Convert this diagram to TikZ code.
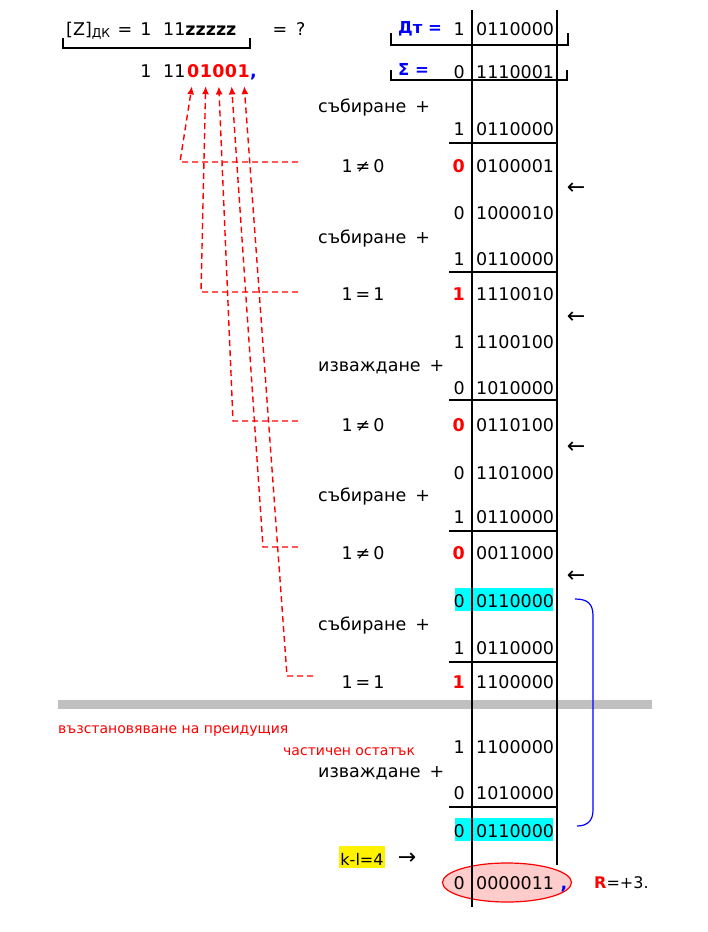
\documentclass[tikz,border=0pt]{standalone}
\usepackage{fontspec}
\setmainfont{DejaVu Sans}
\usetikzlibrary{arrows.meta,shapes.geometric,positioning}
\definecolor{bandgray}{RGB}{192,192,192}
\definecolor{remblue}{RGB}{0,0,255}
\definecolor{hlcyan}{RGB}{0,255,255}
\definecolor{ovalpink}{RGB}{255,204,204}
\newcommand{\rowfont}{\fontsize{17.5pt}{21pt}\selectfont}
\newcommand{\tagfont}{\fontsize{16.5pt}{20pt}\selectfont}
\newcommand{\notefont}{\fontsize{14pt}{17pt}\selectfont}
\newcommand{\arrfont}{\fontsize{22pt}{24pt}\selectfont}

\begin{document}
\begin{tikzpicture}[x=1pt,y=-1pt,every node/.style={inner sep=0pt},
  txt/.style={font=\rowfont,anchor=base},
  sgn/.style={font=\rowfont,anchor=base east},
  man/.style={font=\rowfont,anchor=base west},
  rsgn/.style={sgn,font=\rowfont\bfseries,text=red},
  qbit/.style={font=\rowfont\bfseries,text=red},
  oplabel/.style={font=\rowfont,anchor=base west},
  note/.style={font=\notefont,text=red,anchor=base west},
  link/.style={red,line width=1.4pt,dash pattern=on 6pt off 4pt,
    -{Latex[length=8pt,width=7pt]},shorten >=9pt}]
  \useasboundingbox (0,0) rectangle (708,932);

  \node[txt,anchor=base west] (zl) at (66,35) {[Z]\textsubscript{ДК}};
  \node[txt] (zeq) at (125,35) {=};
  \node[txt] (zs) at (146,35) {1};
  \node[txt,anchor=base west] (zi) at (163,35) {11\textbf{zzzzz}};
  \node[txt] (zq) at (289,35) {=\hspace{9pt}?};
  \draw[line width=1.2pt] (63,38) -- (63,48) -- (250,48) -- (250,38);

  \node[txt] (qs) at (146,77) {1};
  \node[txt,anchor=base west] (qi) at (163,77) {11};
  \node[qbit,anchor=base west] (d1) at (187,77) {0};
  \node[qbit,right=0pt of d1] (d2) {1};
  \node[qbit,right=0pt of d2] (d3) {0};
  \node[qbit,right=0pt of d3] (d4) {0};
  \node[qbit,right=0pt of d4] (d5) {1};
  \node[txt,font=\rowfont\bfseries,text=remblue,anchor=base west] (qc) at (d5.base east) {,};

  \node[font=\tagfont\bfseries,text=remblue,anchor=base west] (dt) at (398,33) {Дт =};
  \node[sgn] (dts) at (465,35) {1};
  \node[man] (dtm) at (476,35) {0110000};
  \draw[line width=1.2pt] (391,33) -- (391,45) -- (568,45) -- (568,33);
  \node[font=\tagfont\bfseries,text=remblue,anchor=base west] (sg) at (398,75) {Σ =};
  \node[sgn] (sgs) at (465,78) {0};
  \node[man] (sgm) at (476,78) {1110001};
  \draw[line width=1.2pt] (391,70) -- (391,80) -- (567,80) -- (567,70);

  \foreach \y/\t [count=\i] in {112/събиране,243/събиране,371/изваждане,
                                 501/събиране,630/събиране,777/изваждане}
    \node[oplabel] (op\i) at (318,\y) {\t\hspace{9pt}+};

  \foreach \s/\m/\y [count=\i] in {1/0110000/135,0/1000010/219,1/0110000/265,
      1/1100100/348,0/1010000/394,0/1101000/479,1/0110000/523,1/0110000/654,
      1/1100000/753,0/1010000/799}{
    \node[sgn] (ps\i) at (465,\y) {\s};
    \node[man] (pm\i) at (476,\y) {\m};
  }

  \foreach \s/\m/\y/\op/\b [count=\i] in {0/0100001/172/≠/0,1/1110010/300/=/1,
      0/0110100/431/≠/0,0/0011000/559/≠/0,1/1100000/688/=/1}{
    \node[rsgn] (rs\i) at (465,\y) {\s};
    \node[man] (rm\i) at (476,\y) {\m};
    \node[txt] (cp\i) at (363,\y) {1\hspace{3pt}\op\hspace{3pt}\b};
  }

  \foreach \y in {143,272,400,531,662,807}
    \draw[line width=1.2pt] (449,\y) -- (558,\y);

  \foreach \y [count=\i] in {189,318,448,577}
    \node[font=\arrfont] (sh\i) at (576,\y) {←};

  \foreach \y [count=\i] in {607,837}{
    \fill[hlcyan] (455,\y-19) rectangle (553,\y+4);
    \node[sgn] (cs\i) at (465,\y) {0};
    \node[man] (cm\i) at (476,\y) {0110000};
  }

  \fill[bandgray] (58,700) rectangle (652,709);
  \node[note] (n1) at (58,733) {възстановяване на преидущия};
  \node[note] (n2) at (283,755) {частичен остатък};

  \node[ellipse,draw=red,line width=1.2pt,fill=ovalpink,minimum width=129pt,
    minimum height=39pt] (ov) at (507,882.5) {};
  \node[sgn] (os) at (465,889) {0};
  \node[man] (om) at (476,889) {0000011};
  \node[txt,font=\rowfont\bfseries,text=remblue] (oc) at (564,889) {,};

  \node[font=\fontsize{16pt}{19pt}\selectfont,fill=yellow,anchor=base,
    text height=19pt,text depth=3pt,inner xsep=1pt] (kl) at (362,865) {k-l=4};
  \node[font=\arrfont] (ka) at (407,859) {→};
  \node[font=\fontsize{16pt}{19pt}\selectfont,anchor=base west] (rr) at (594,888)
    {\textcolor{red}{\textbf{R}}=+3.};

  \draw[line width=1.2pt] (472,10) -- (472,907);
  \draw[line width=1.2pt] (557,10) -- (557,865);

  \draw[remblue,line width=1.2pt] (575,599) .. controls (588,599) and (593,604) .. (593,616)
    -- (593,810) .. controls (593,820) and (588,826) .. (577,826);

  \foreach \i/\cx/\cy/\ex in {1/180/162/298,2/201/292/298,3/233/421/298,
                              4/263/547/298,5/287/676/313}{
    \coordinate (h\i) at (\ex,\cy);
    \coordinate (c\i) at (\cx,\cy);
    \draw[link] (h\i) -- (c\i) -- (d\i.south);
  }
\end{tikzpicture}
\end{document}
